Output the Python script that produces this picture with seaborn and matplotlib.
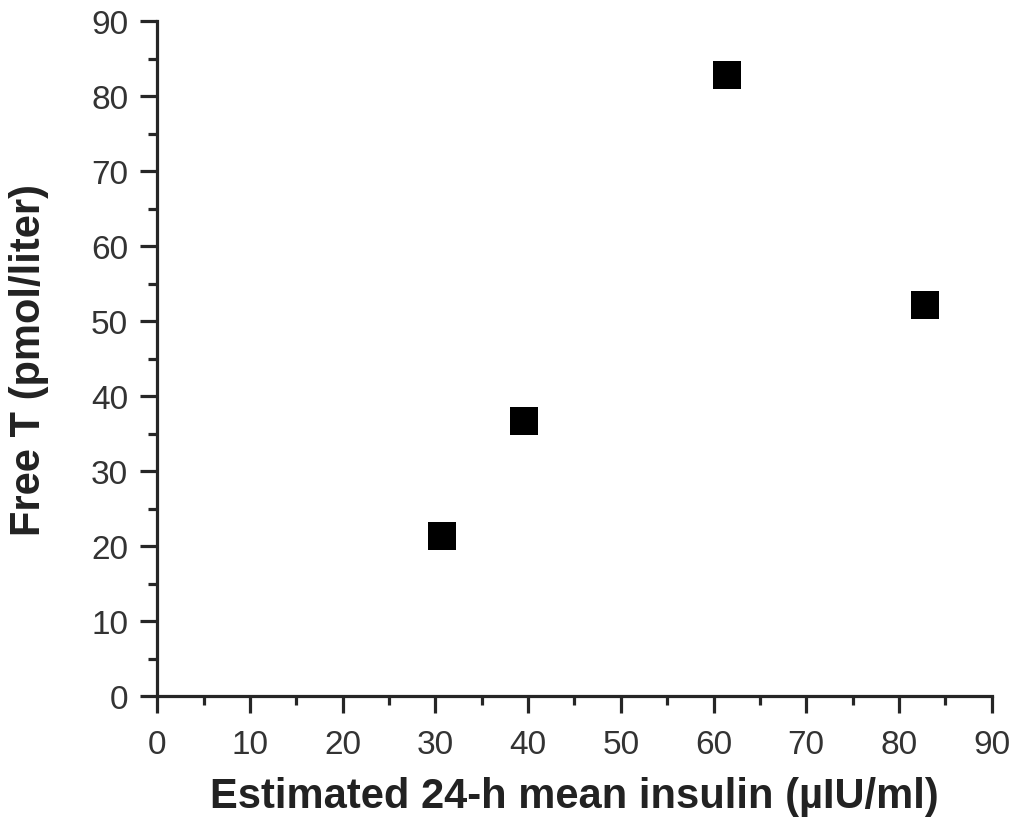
import matplotlib
matplotlib.use("Agg")
import matplotlib.pyplot as plt
from matplotlib.ticker import MultipleLocator
import seaborn as sns
import pandas as pd

insulin = [30.7, 39.5, 61.5, 82.8]
free_t = [21.3, 36.7, 82.8, 52.2]

sns.set_style("ticks")
plt.rcParams['font.family'] = ['Liberation Sans', 'DejaVu Sans']

df = pd.DataFrame({"insulin": insulin, "free_t": free_t})

fig = plt.figure(figsize=(10.15, 8.2), dpi=100)
ax = fig.add_axes([0.155, 0.150, 0.822, 0.823])
sns.scatterplot(data=df, x="insulin", y="free_t", marker="s", s=380,
                color="black", edgecolor="black", linewidth=0, ax=ax)

ax.set_xlim(0, 90)
ax.set_ylim(0, 90)
ax.xaxis.set_major_locator(MultipleLocator(10))
ax.yaxis.set_major_locator(MultipleLocator(10))
ax.xaxis.set_minor_locator(MultipleLocator(5))
ax.yaxis.set_minor_locator(MultipleLocator(5))
ax.tick_params(which="major", direction="out", length=12, width=2.3, labelsize=24,
               labelcolor="#333333")
ax.tick_params(which="minor", direction="out", length=6.5, width=2.3)
ax.tick_params(axis="x", which="major", pad=12)
ax.tick_params(axis="y", which="major", pad=9)
for sp in ["left", "bottom"]:
    ax.spines[sp].set_linewidth(2.3)
sns.despine(ax=ax)

ax.set_xlabel("Estimated 24-h mean insulin (\u00b5IU/ml)", fontsize=30, fontweight="bold",
              color="#222222", labelpad=11)
ax.set_ylabel("Free T (pmol/liter)", fontsize=30, fontweight="bold", color="#222222",
              labelpad=30)

fig.savefig("out.png", dpi=100)
